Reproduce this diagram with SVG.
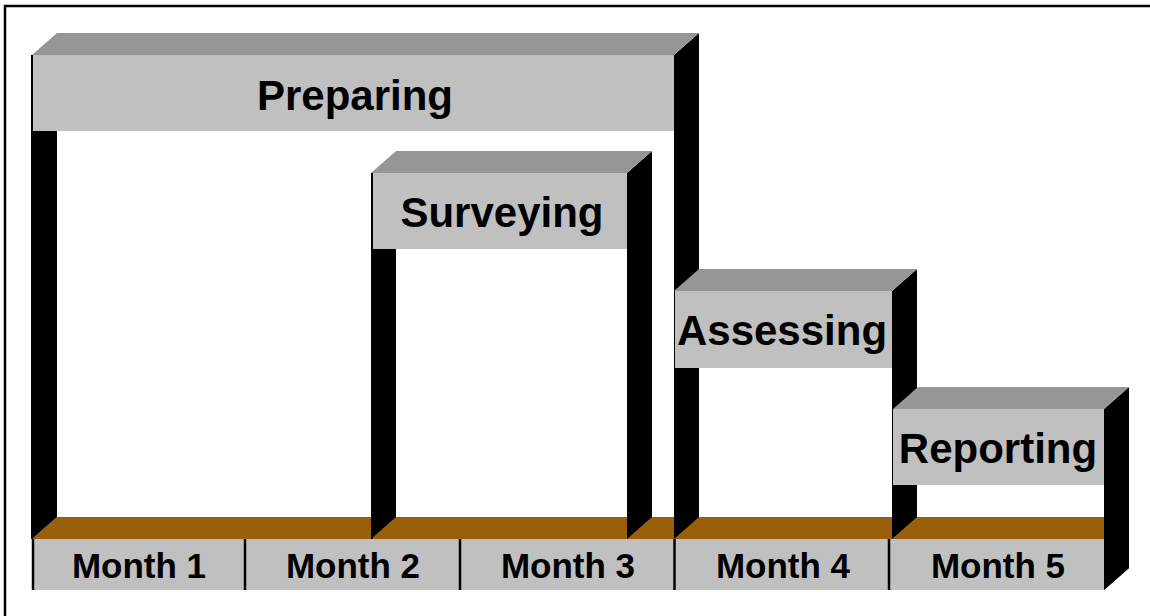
<svg xmlns="http://www.w3.org/2000/svg" width="1150" height="616" viewBox="0 0 1150 616">
<style>
.front{fill:#c0c0c0}
.top{fill:#969696}
.side{fill:#000}
.floor{fill:#995f0a}
.lbl{font-family:"Liberation Sans",Arial,sans-serif;font-weight:bold;font-size:42px;fill:#000;text-anchor:middle}
.mon{font-family:"Liberation Sans",Arial,sans-serif;font-weight:bold;font-size:35px;fill:#000;text-anchor:middle}
.div{stroke:#000;stroke-width:2.5}
</style>
<rect x="0" y="0" width="1150" height="616" fill="#fff"/>
<path d="M5,616 V6 H1150" fill="none" stroke="#000" stroke-width="2.5"/>

<g id="floor">
  <polygon class="floor" points="32,539 57,517 1129,517 1104,539"/>
  <rect class="front" x="32" y="539" width="1072" height="51"/>
  <polygon class="side" points="1104,539 1129,517 1129,568 1104,590"/>
  <line x1="33" y1="539" x2="33" y2="590" class="div"/>
  <line x1="245" y1="539" x2="245" y2="590" class="div"/>
  <line x1="460" y1="539" x2="460" y2="590" class="div"/>
  <line x1="674.5" y1="539" x2="674.5" y2="590" class="div"/>
  <line x1="889" y1="539" x2="889" y2="590" class="div"/>
  <text class="mon" x="139" y="578">Month 1</text>
  <text class="mon" x="353" y="578">Month 2</text>
  <text class="mon" x="568" y="578">Month 3</text>
  <text class="mon" x="783" y="578">Month 4</text>
  <text class="mon" x="998" y="578">Month 5</text>
</g>

<g id="preparing">
  <polygon class="side" points="32,131 57,131 57,517 32,539"/>
  <polygon class="side" points="674,55 699,33 699,517 674,539"/>
  <polygon class="top" points="32,55 57,33 699,33 674,55"/>
  <rect class="front" x="32" y="55" width="642" height="76"/>
  <line x1="32" y1="55" x2="32" y2="539" stroke="#000" stroke-width="2"/>
  <text class="lbl" x="355" y="110">Preparing</text>
</g>

<g id="surveying">
  <polygon class="side" points="371,249 396,249 396,517 371,539"/>
  <polygon class="side" points="627,173 652,151 652,517 627,539"/>
  <polygon class="top" points="371,173 396,151 652,151 627,173"/>
  <rect class="front" x="371" y="173" width="256" height="76"/>
  <line x1="372" y1="173" x2="372" y2="539" stroke="#000" stroke-width="2"/>
  <text class="lbl" x="502" y="227">Surveying</text>
</g>

<g id="assessing">
  <polygon class="side" points="892,291 917,269 917,517 892,539"/>
  <polygon class="top" points="674,291 699,269 917,269 892,291"/>
  <rect class="front" x="675" y="291" width="217" height="77"/>
  <text class="lbl" x="782" y="345">Assessing</text>
</g>

<g id="reporting">
  <polygon class="side" points="1104,409 1129,387 1129,568 1104,590"/>
  <polygon class="top" points="893,409 918,387 1129,387 1104,409"/>
  <rect class="front" x="893" y="409" width="211" height="76"/>
  <text class="lbl" x="998" y="463">Reporting</text>
</g>
</svg>
